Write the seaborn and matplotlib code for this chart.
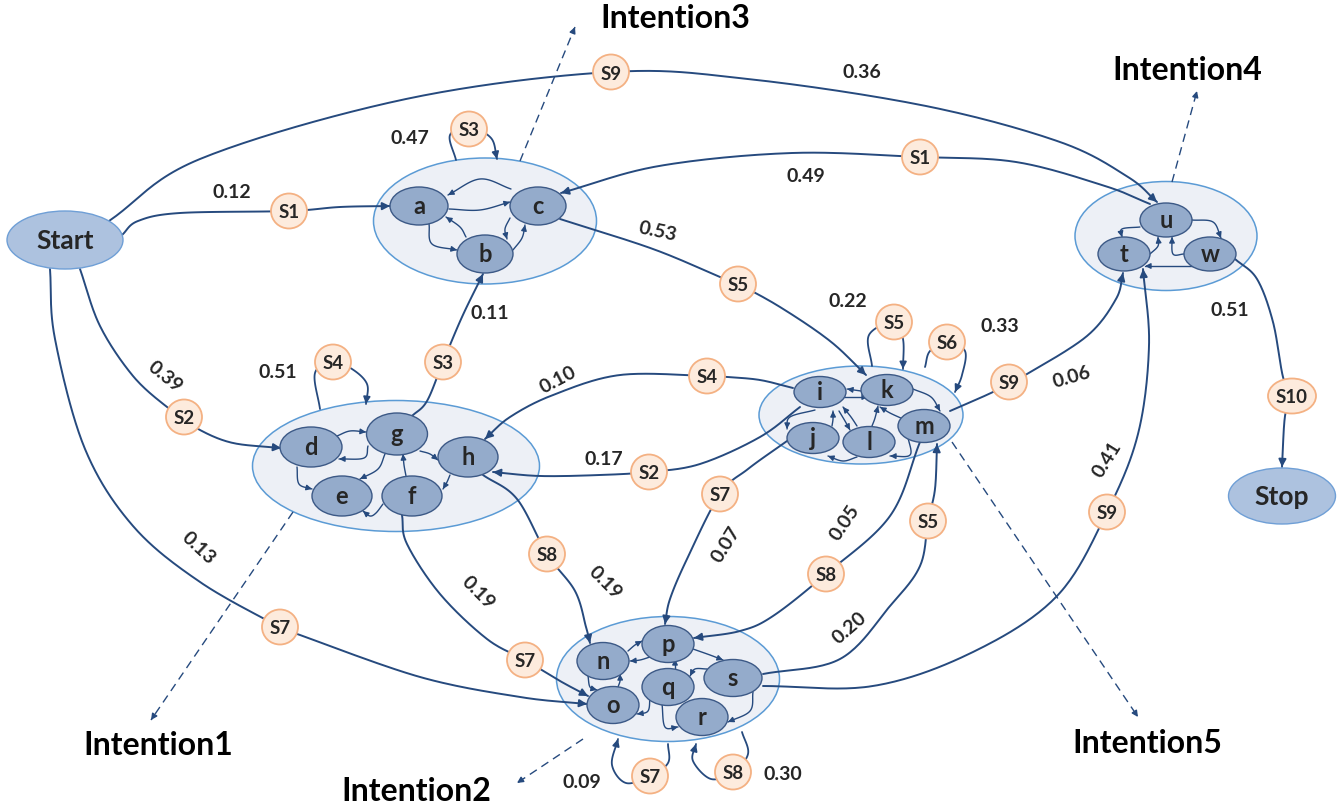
import numpy as np
import matplotlib
matplotlib.use("Agg")
import matplotlib.pyplot as plt
import seaborn as sns
from matplotlib.patches import Ellipse

# ---------------- data ----------------
INTENTIONS = ["Intention1", "Intention2", "Intention3", "Intention4", "Intention5"]
CLUSTER_MEMBERS = {
    "Intention1": ["d", "g", "h", "e", "f"],
    "Intention2": ["n", "p", "q", "s", "o", "r"],
    "Intention3": ["a", "b", "c"],
    "Intention4": ["u", "t", "w"],
    "Intention5": ["i", "k", "j", "l", "m"],
}
TERMINALS = ["Start", "Stop"]

EDGE_SRC = ["Start", "Start", "u", "c", "g", "Start", "Start", "i", "i", "h", "f", "j", "m", "s", "s", "m", "w"]
EDGE_DST = ["u", "a", "c", "k", "b", "d", "o", "h", "h", "n", "o", "p", "p", "m", "t", "t", "Stop"]
EDGE_STATE = ["S9", "S1", "S1", "S5", "S3", "S2", "S7", "S4", "S2", "S8", "S7", "S7", "S8", "S5", "S9", "S9", "S10"]
EDGE_WEIGHT = ["0.36", "0.12", "0.49", "0.53", "0.11", "0.39", "0.13", "0.10", "0.17", "0.19", "0.19",
               "0.07", "0.05", "0.20", "0.41", "0.06", "0.51"]

LOOP_NODE = ["Intention3", "Intention1", "k", "m", "o", "r"]
LOOP_STATE = ["S3", "S4", "S5", "S6", "S7", "S8"]
LOOP_WEIGHT = ["0.47", "0.51", "0.22", "0.33", "0.09", "0.30"]

INNER_SRC = ["c", "a", "a", "b", "c", "b",
             "d", "g", "g", "g", "d", "f", "h", "f",
             "k", "k", "m", "i", "j", "i", "l", "l", "l", "m",
             "u", "t", "w", "u", "w",
             "n", "p", "n", "o", "p", "q", "s", "q", "q", "s"]
INNER_DST = ["a", "c", "b", "a", "b", "c",
             "g", "d", "h", "e", "e", "g", "f", "e",
             "i", "m", "k", "j", "i", "l", "i", "k", "j", "l",
             "t", "u", "u", "w", "t",
             "p", "n", "o", "n", "s", "p", "q", "o", "r", "r"]
DOUBLE_PAIR = ("i", "k")

# ---------------- layout (pixel space) ----------------
NODE_BOX = {
    "Start": (65, 241, 116, 58), "Stop": (1282, 497, 107, 56),
    "a": (419, 207, 58, 38), "c": (538, 207, 56, 38), "b": (485, 255, 56, 38),
    "d": (311, 448, 62, 40), "g": (397, 435, 61, 42), "h": (468, 458, 60, 40),
    "e": (342, 497, 60, 40), "f": (412, 497, 60, 40),
    "i": (820, 393, 52, 31), "k": (887, 391, 52, 31), "j": (813, 439, 52, 31),
    "l": (869, 443, 52, 31), "m": (924, 427, 52, 33),
    "u": (1166, 221, 52, 34), "t": (1124, 255, 52, 34), "w": (1210, 255, 52, 34),
    "p": (668, 645, 52, 37), "n": (603, 662, 52, 37), "q": (668, 688, 52, 37),
    "s": (733, 679, 58, 37), "o": (613, 706, 52, 37), "r": (702, 718, 52, 37),
}
CLUSTER_BOX = {
    "Intention3": (485, 222, 223, 126), "Intention1": (396, 467, 287, 131),
    "Intention5": (861, 416, 204, 98), "Intention4": (1166, 237, 182, 109),
    "Intention2": (668, 680, 223, 125),
}
INTENT_TEXT = {"Intention3": (675, 19), "Intention4": (1187, 71), "Intention1": (158, 746),
               "Intention5": (1147, 744), "Intention2": (416, 792)}
INTENT_ARROW = {"Intention3": ((520, 162), (575, 28)), "Intention4": ((1172, 183), (1197, 92)),
                "Intention1": ((293, 513), (151, 721)), "Intention5": ((952, 443), (1138, 718)),
                "Intention2": ((583, 740), (517, 784))}

EDGE_PATH = [
    [(109, 222), (200, 160), (406, 100), (611, 73), (748, 80), (926, 107), (1060, 143), (1128, 178), (1157, 203)],
    [(122, 236), (138, 222), (180, 214), (289, 212), (340, 208), (390, 207)],
    [(1150, 205), (1105, 187), (1016, 163), (920, 158), (792, 154), (659, 167), (561, 194)],
    [(560, 220), (653, 250), (720, 278), (738, 285), (780, 308), (830, 342), (866, 376)],
    [(412, 417), (427, 402), (443, 363), (462, 318), (483, 275)],
    [(80, 270), (100, 327), (133, 377), (167, 408), (184, 418), (200, 431), (233, 444), (281, 449)],
    [(50, 270), (55, 340), (85, 450), (133, 527), (200, 583), (280, 628), (300, 636), (420, 678), (520, 698), (587, 705)],
    [(793, 389), (760, 381), (727, 378), (707, 377), (620, 376), (553, 396), (510, 418), (485, 440)],
    [(800, 408), (760, 438), (700, 465), (649, 473), (600, 476), (540, 477), (493, 473)],
    [(483, 476), (517, 500), (547, 555), (575, 592), (586, 628), (590, 644)],
    [(402, 516), (407, 545), (440, 595), (487, 640), (525, 661), (560, 682), (588, 697)],
    [(787, 442), (748, 470), (720, 495), (687, 560), (670, 600), (665, 625)],
    [(920, 443), (890, 517), (826, 575), (773, 617), (740, 632), (694, 639)],
    [(763, 675), (840, 660), (890, 607), (920, 567), (928, 522), (935, 490), (937, 445)],
    [(763, 687), (873, 687), (973, 653), (1057, 597), (1107, 513), (1138, 435), (1149, 347), (1143, 270)],
    [(950, 412), (993, 393), (1009, 383), (1027, 375), (1087, 337), (1116, 300), (1123, 274)],
    [(1235, 260), (1257, 280), (1273, 323), (1283, 378), (1292, 397), (1285, 417), (1282, 468)],
]
EDGE_STATE_POS = [(611, 73), (289, 212), (920, 158), (738, 285), (443, 363), (184, 418), (280, 628),
                  (707, 377), (649, 473), (547, 555), (525, 661), (720, 495), (826, 575), (928, 522),
                  (1107, 513), (1009, 383), (1292, 397)]
EDGE_WEIGHT_POS = [(862, 73, 0), (232, 193, 0), (806, 177, 0), (658, 232, -12), (490, 314, 0),
                   (165, 377, -39), (198, 548, -43), (558, 380, 28), (604, 460, 0), (605, 583, -45),
                   (478, 593, -45), (726, 545, 58), (845, 523, 56), (850, 628, 41), (1107, 460, 58),
                   (1072, 377, 16), (1230, 311, 0)]

LOOP_PATH = [
    [(456, 161), (450, 136), (469, 128), (491, 139), (497, 160)],
    [(320, 410), (315, 374), (333, 363), (352, 370), (367, 385), (366, 405)],
    [(872, 367), (869, 336), (894, 323), (903, 340), (903, 370)],
    [(925, 368), (930, 352), (947, 343), (965, 352), (962, 376), (955, 393)],
    [(668, 745), (668, 764), (650, 777), (626, 784), (612, 766), (618, 740)],
    [(742, 733), (748, 755), (733, 773), (711, 780), (693, 762), (696, 745)],
]
LOOP_STATE_POS = [(469, 130), (333, 363), (894, 323), (947, 343), (650, 777), (733, 773)]
LOOP_WEIGHT_POS = [(410, 139), (278, 373), (848, 302), (1000, 327), (582, 783), (783, 775)]

INNER_PATH = [
    [(511, 190), (480, 180), (448, 196)], [(449, 210), (480, 211), (510, 203)],
    [(429, 225), (432, 245), (457, 251)], [(466, 238), (460, 228), (446, 218)],
    [(510, 219), (505, 230), (507, 240)], [(513, 251), (522, 239), (525, 226)],
    [(337, 437), (350, 432), (366, 433)], [(368, 447), (364, 459), (339, 460)],
    [(420, 452), (430, 455), (438, 461)], [(385, 455), (378, 470), (360, 480)],
    [(297, 468), (299, 485), (312, 490)], [(406, 477), (404, 466), (403, 455)],
    [(450, 476), (447, 483), (443, 490)], [(383, 505), (376, 514), (370, 517), (363, 512)],
    [(861, 392), (847, 390)], [(913, 390), (931, 398), (940, 412)],
    [(903, 420), (890, 414), (880, 408)], [(815, 411), (790, 418), (787, 430)],
    [(832, 427), (833, 420), (833, 412)], [(839, 412), (845, 422), (850, 431)],
    [(857, 427), (851, 418), (843, 408)], [(872, 427), (875, 419), (878, 407)],
    [(857, 458), (843, 462), (828, 457)], [(908, 438), (910, 456), (890, 457)],
    [(1140, 228), (1122, 230), (1122, 238)], [(1150, 255), (1158, 247), (1158, 238)],
    [(1184, 255), (1173, 255), (1172, 238)], [(1192, 221), (1213, 223), (1221, 239)],
    [(1197, 267), (1170, 267), (1145, 267)],
    [(628, 652), (635, 646), (642, 642)], [(650, 658), (640, 661), (630, 662)],
    [(588, 677), (590, 688), (597, 691)], [(618, 688), (620, 682), (620, 675)],
    [(693, 650), (710, 656), (723, 661)], [(675, 672), (675, 666), (675, 660)],
    [(707, 670), (695, 670), (690, 677)], [(650, 697), (648, 712), (637, 715)],
    [(662, 705), (665, 728), (678, 728)], [(753, 693), (750, 712), (728, 723)],
]
DOUBLE_PATH = [(837, 398), (868, 398)]

# ---------------- style ----------------
LINE = "#264a7e"
NODE_FILL, NODE_EDGE = "#94abcb", "#3c5986"
CL_FILL, CL_EDGE = "#edf0f6", "#5b9bd5"
TERM_FILL, TERM_EDGE = "#adc2df", "#6f9fd6"
S_FILL, S_EDGE = "#fdebdd", "#f4b183"

sns.set_theme(style="white")
plt.rcParams["font.family"] = ["Lato", "DejaVu Sans"]

fig = plt.figure(figsize=(13.44, 8.12), dpi=100)
ax = fig.add_axes([0, 0, 1, 1])
ax.set_xlim(0, 1344)
ax.set_ylim(812, 0)
ax.axis("off")


def smooth(pts, n=24):
    P = np.asarray(pts, float)
    if len(P) == 2:
        return np.linspace(P[0], P[1], n)
    P = np.vstack([2 * P[0] - P[1], P, 2 * P[-1] - P[-2]])
    out = []
    t = np.linspace(0, 1, n, endpoint=False)[:, None]
    for i in range(1, len(P) - 2):
        p0, p1, p2, p3 = P[i - 1], P[i], P[i + 1], P[i + 2]
        out.append(0.5 * (2 * p1 + (-p0 + p2) * t + (2 * p0 - 5 * p1 + 4 * p2 - p3) * t ** 2
                          + (-p0 + 3 * p1 - 3 * p2 + p3) * t ** 3))
    out.append(P[-2][None])
    return np.vstack(out)


def draw_curve(pts, lw=1.4, head=11, z=2, both=False):
    c = smooth(pts)
    ax.plot(c[:, 0], c[:, 1], color=LINE, lw=lw, zorder=z, solid_capstyle="round")
    d = np.cumsum(np.r_[0, np.hypot(*np.diff(c, axis=0).T)])
    k = np.searchsorted(d, d[-1] - 5)
    k = max(0, min(k, len(c) - 2))
    ax.annotate("", xy=tuple(c[-1]), xytext=tuple(c[k]),
                arrowprops=dict(arrowstyle="<|-|>" if both else "-|>", color=LINE, lw=lw,
                                mutation_scale=head, shrinkA=0, shrinkB=0), zorder=z)


# clusters
for name in INTENTIONS:
    x, y, w, h = CLUSTER_BOX[name]
    ax.add_patch(Ellipse((x, y), w, h, facecolor=CL_FILL, edgecolor=CL_EDGE, lw=1.1, zorder=1))
    (x0, y0), (x1, y1) = INTENT_ARROW[name]
    ax.plot([x0, x1], [y0, y1], color=LINE, lw=1.0, ls=(0, (6, 4)), zorder=1.5)
    v = np.array([x1 - x0, y1 - y0]) / np.hypot(x1 - x0, y1 - y0)
    ax.annotate("", xy=(x1, y1), xytext=(x1 - 6 * v[0], y1 - 6 * v[1]),
                arrowprops=dict(arrowstyle="-|>", color=LINE, lw=1.0, mutation_scale=9,
                                shrinkA=0, shrinkB=0), zorder=1.5)
    tx, ty = INTENT_TEXT[name]
    ax.text(tx, ty, name, fontsize=23, fontweight="bold", ha="center", va="center", color="black", zorder=6)

# main edges
for i in range(len(EDGE_SRC)):
    draw_curve(EDGE_PATH[i])
for i in range(len(LOOP_NODE)):
    draw_curve(LOOP_PATH[i], lw=1.3, head=10)
for i in range(len(INNER_SRC)):
    draw_curve(INNER_PATH[i], lw=1.0, head=8, z=2.5)
draw_curve(DOUBLE_PATH, lw=1.0, head=8, z=2.5, both=True)

# nodes
for grp in INTENTIONS:
    for nm in CLUSTER_MEMBERS[grp]:
        x, y, w, h = NODE_BOX[nm]
        ax.add_patch(Ellipse((x, y), w, h, facecolor=NODE_FILL, edgecolor=NODE_EDGE, lw=1.0, zorder=4))
        ax.text(x, y, nm, fontsize=17, fontweight="bold", ha="center", va="center", zorder=6)
for nm in TERMINALS:
    x, y, w, h = NODE_BOX[nm]
    ax.add_patch(Ellipse((x, y), w, h, facecolor=TERM_FILL, edgecolor=TERM_EDGE, lw=1.0, zorder=4))
    ax.text(x, y, nm, fontsize=19, fontweight="bold", ha="center", va="center", zorder=6)


def state_badge(pos, label):
    x, y = pos
    w = 48 if len(label) > 2 else 36
    ax.add_patch(Ellipse((x, y), w, 35, facecolor=S_FILL, edgecolor=S_EDGE, lw=1.3, zorder=5))
    ax.text(x, y + 1, label, fontsize=13.5, fontweight="bold", ha="center", va="center", zorder=6)


for i in range(len(EDGE_SRC)):
    state_badge(EDGE_STATE_POS[i], EDGE_STATE[i])
    wx, wy, rot = EDGE_WEIGHT_POS[i]
    ax.text(wx, wy, EDGE_WEIGHT[i], fontsize=14, fontweight="bold", ha="center", va="center",
            rotation=rot, rotation_mode="anchor", zorder=6)
for i in range(len(LOOP_NODE)):
    state_badge(LOOP_STATE_POS[i], LOOP_STATE[i])
    wx, wy = LOOP_WEIGHT_POS[i]
    ax.text(wx, wy, LOOP_WEIGHT[i], fontsize=14, fontweight="bold", ha="center", va="center", zorder=6)

fig.savefig("out.png", dpi=100, facecolor="white")
